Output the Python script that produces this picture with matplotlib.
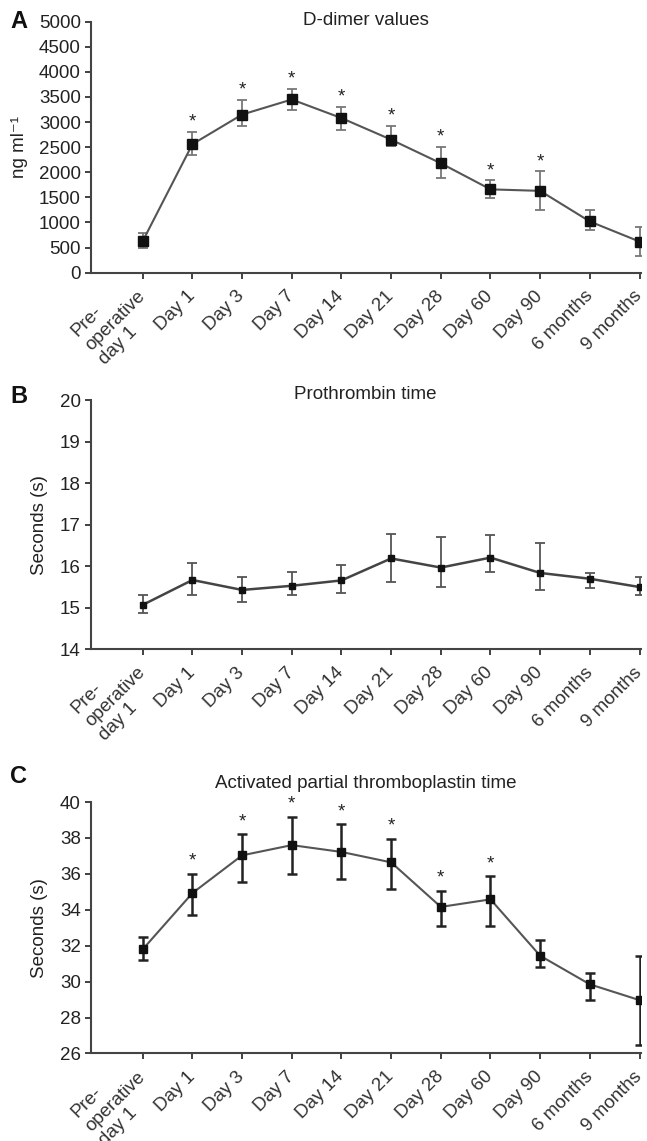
import numpy as np
import matplotlib
matplotlib.use("Agg")
import matplotlib.pyplot as plt

plt.rcParams['font.family'] = ['Liberation Sans', 'DejaVu Sans']

categories = ["Pre-\noperative\nday 1", "Day 1", "Day 3", "Day 7", "Day 14", "Day 21",
              "Day 28", "Day 60", "Day 90", "6 months", "9 months"]

# panel A - D-dimer (ng/ml), error bar ends
dimer_mean = [630, 2560, 3150, 3450, 3080, 2650, 2180, 1660, 1630, 1020, 620]
dimer_low = [490, 2340, 2930, 3250, 2840, 2530, 1880, 1480, 1250, 850, 340]
dimer_high = [790, 2800, 3440, 3660, 3310, 2930, 2510, 1840, 2020, 1240, 920]
dimer_star = [0, 1, 1, 1, 1, 1, 1, 1, 1, 0, 0]

# panel B - prothrombin time (s)
pt_mean = [15.07, 15.67, 15.43, 15.53, 15.66, 16.19, 15.97, 16.21, 15.84, 15.70, 15.50]
pt_low = [14.88, 15.31, 15.13, 15.31, 15.35, 15.63, 15.51, 15.87, 15.42, 15.47, 15.31]
pt_high = [15.30, 16.08, 15.74, 15.87, 16.02, 16.78, 16.70, 16.76, 16.56, 15.83, 15.74]

# panel C - aPTT (s)
aptt_mean = [31.8, 34.93, 37.03, 37.6, 37.22, 36.64, 34.16, 34.58, 31.44, 29.85, 28.97]
aptt_low = [31.21, 33.7, 35.57, 36.0, 35.69, 35.17, 33.07, 33.07, 30.82, 28.98, 26.45]
aptt_high = [32.47, 36.0, 38.2, 39.18, 38.76, 37.96, 35.07, 35.86, 32.31, 30.49, 31.44]
aptt_star = [0, 1, 1, 1, 1, 1, 1, 1, 0, 0, 0]

x = np.arange(len(categories))


def style_axes(ax, ylim, yticks, ylabel, title, letter, ylabel_x, title_y, letter_y):
    ax.set_xlim(-1.05, 10.02)
    ax.set_ylim(*ylim)
    ax.set_yticks(yticks)
    ax.set_xticks(x)
    ax.set_xticklabels(categories, rotation=45, ha='right', va='center',
                       rotation_mode='anchor', multialignment='left', fontsize=13.5,
                       color='#222222')
    ax.tick_params(axis='y', labelsize=13.5, colors='#333333', labelcolor='#222222',
                   length=4, width=1.3, direction='out', pad=3)
    ax.tick_params(axis='x', colors='#333333', length=4, width=1.3,
                   direction='out', pad=11)
    for side in ['top', 'right']:
        ax.spines[side].set_visible(False)
    for side in ['left', 'bottom']:
        ax.spines[side].set_color('#444444')
        ax.spines[side].set_linewidth(1.5)
    ax.set_ylabel(ylabel, fontsize=13.5, color='#222222')
    ax.yaxis.set_label_coords(ylabel_x, 0.5)
    ax.text(0.5, title_y, title, transform=ax.transAxes, fontsize=13.5,
            ha='center', va='center', color='#222222')
    ax.text(-0.146, letter_y, letter, transform=ax.transAxes, fontsize=17,
            fontweight='bold', va='center', ha='left', color='#111111')


def plot_series(ax, mean, low, high, line_c, err_c, lw, elw, ms):
    mean = np.array(mean)
    yerr = [mean - np.array(low), np.array(high) - mean]
    ax.errorbar(x, mean, yerr=yerr, fmt='none', ecolor=err_c, elinewidth=elw,
                capsize=3.5, capthick=elw, zorder=2)
    ax.plot(x, mean, color=line_c, lw=lw, zorder=3)
    ax.plot(x, mean, 's', color='#111111', ms=ms, zorder=4)


def add_stars(ax, high, stars, offset):
    for xi, h, s in zip(x, high, stars):
        if s:
            ax.annotate('*', (xi, h), xytext=(0, offset), textcoords='offset points',
                        ha='center', va='center', fontsize=13.5, color='#222222')


fig = plt.figure(figsize=(6.47, 11.41), dpi=100)
left, width = 0.14, 0.85

axA = fig.add_axes([left, 0.761, width, 0.220])
plot_series(axA, dimer_mean, dimer_low, dimer_high, '#555555', '#777777', 1.5, 1.3, 6.5)
add_stars(axA, dimer_high, dimer_star, 7)
style_axes(axA, (0, 5000), np.arange(0, 5001, 500), 'ng ml\u207b\u00b9',
           'D-dimer values', 'A', -0.114, 1.005, 1.0)

axB = fig.add_axes([left, 0.431, width, 0.218])
plot_series(axB, pt_mean, pt_low, pt_high, '#444444', '#555555', 1.8, 1.3, 5)
style_axes(axB, (14, 20), np.arange(14, 21, 1), 'Seconds (s)',
           'Prothrombin time', 'B', -0.078, 1.023, 1.017)

axC = fig.add_axes([left, 0.0767, width, 0.2204])
plot_series(axC, aptt_mean, aptt_low, aptt_high, '#555555', '#222222', 1.5, 1.8, 5.5)
add_stars(axC, aptt_high, aptt_star, 9)
style_axes(axC, (26, 40), np.arange(26, 41, 2), 'Seconds (s)',
           'Activated partial thromboplastin time', 'C', -0.078, 1.075, 1.10)

fig.savefig('out.png', dpi=100)
